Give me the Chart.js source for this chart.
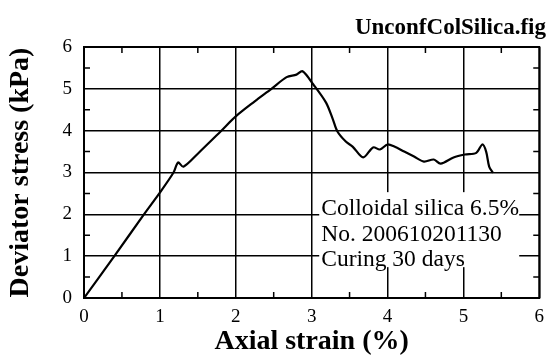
<!DOCTYPE html>
<html lang="en">
<head>
<meta charset="UTF-8">
<title>UnconfColSilica</title>
<style>
  html, body { margin: 0; padding: 0; background: #fff; }
  #wrap { width: 552px; height: 356px; position: relative; }
</style>
</head>
<body>
<div id="wrap"><canvas id="chartContainer" width="552" height="356"></canvas></div>

<script src="https://cdn.jsdelivr.net/npm/chart.js"></script>
<script>
// data
const strain = [0, 0.40, 0.79, 1.00, 1.18, 1.24, 1.31, 1.50, 1.80, 2.00, 2.25, 2.47, 2.67, 2.80, 2.88,
                3.02, 3.19, 3.28, 3.34, 3.45, 3.54, 3.68, 3.81, 3.90, 4.00, 4.09, 4.22, 4.35, 4.48,
                4.61, 4.70, 4.87, 5.02, 5.17, 5.25, 5.30, 5.34, 5.39];
const stress = [0, 1.00, 2.00, 2.52, 3.00, 3.24, 3.14, 3.45, 3.98, 4.34, 4.70, 5.00, 5.28, 5.34, 5.42,
                5.11, 4.67, 4.27, 3.98, 3.74, 3.62, 3.36, 3.60, 3.55, 3.67, 3.62, 3.50, 3.38, 3.26,
                3.31, 3.21, 3.36, 3.43, 3.47, 3.67, 3.50, 3.14, 2.99];
const noteLines = ['Colloidal silica 6.5%', 'No. 200610201130', 'Curing 30 days'];
const figName = 'UnconfColSilica.fig';

const SERIF = '"Liberation Serif", "DejaVu Serif", serif';

const points = strain.map((x, i) => ({x: x, y: stress[i]}));

// frame, minor ticks, note box and file name
const decorPlugin = {
    id: 'decor',
    beforeDatasetsDraw(chart) {
        const ctx = chart.ctx;
        const a = chart.chartArea;
        const xs = chart.scales.x, ys = chart.scales.y;
        ctx.save();
        ctx.strokeStyle = '#000';
        ctx.lineWidth = 1.5;
        // minor ticks at 0.5
        for (let v = 0.5; v < 6; v += 1) {
            const px = xs.getPixelForValue(v);
            ctx.beginPath();
            ctx.moveTo(px, a.bottom); ctx.lineTo(px, a.bottom - 6);
            ctx.moveTo(px, a.top); ctx.lineTo(px, a.top + 6);
            ctx.stroke();
            const py = ys.getPixelForValue(v);
            ctx.beginPath();
            ctx.moveTo(a.left, py); ctx.lineTo(a.left + 6, py);
            ctx.moveTo(a.right, py); ctx.lineTo(a.right - 6, py);
            ctx.stroke();
        }
        // note box
        const bx = xs.getPixelForValue(3.1);
        const by = ys.getPixelForValue(2.53);
        ctx.fillStyle = '#fff';
        ctx.fillRect(bx, by, 200, 75);
        ctx.fillStyle = '#000';
        ctx.font = '23.5px ' + SERIF;
        ctx.textBaseline = 'middle';
        ctx.textAlign = 'left';
        noteLines.forEach((t, i) => ctx.fillText(t, bx + 2, ys.getPixelForValue(2.12 - i * 0.6)));
        // frame
        ctx.lineWidth = 2;
        ctx.strokeRect(a.left, a.top, a.right - a.left, a.bottom - a.top);
        ctx.restore();
    },
    afterDraw(chart) {
        const ctx = chart.ctx;
        ctx.save();
        ctx.fillStyle = '#000';
        ctx.font = 'bold 23px ' + SERIF;
        ctx.textAlign = 'right';
        ctx.textBaseline = 'middle';
        ctx.fillText(figName, 546, 28);
        ctx.restore();
    }
};

new Chart(document.getElementById('chartContainer'), {
    type: 'scatter',
    data: {
        datasets: [{
            data: points,
            showLine: true,
            borderColor: '#000',
            borderWidth: 2.2,
            pointRadius: 0,
            tension: 0.3,
            fill: false
        }]
    },
    options: {
        responsive: false,
        animation: false,
        layout: { padding: { top: 47, right: 6, left: 0, bottom: 0 } },
        plugins: { legend: { display: false }, tooltip: { enabled: false } },
        scales: {
            x: {
                type: 'linear',
                min: 0, max: 6,
                afterFit(scale) { scale.height = 58; },
                border: { display: false },
                grid: { color: '#000', lineWidth: 1.5, drawTicks: false },
                ticks: { stepSize: 1, color: '#000', padding: 8, font: { family: SERIF, size: 19 } },
                title: {
                    display: true, text: 'Axial strain (%)', color: '#000', padding: { top: 0, bottom: 0 },
                    font: { family: SERIF, size: 28, weight: 'bold', lineHeight: 1.0 }
                }
            },
            y: {
                type: 'linear',
                min: 0, max: 6,
                afterFit(scale) { scale.width = 84; },
                border: { display: false },
                grid: { color: '#000', lineWidth: 1.5, drawTicks: false },
                ticks: { stepSize: 1, color: '#000', padding: 12, font: { family: SERIF, size: 19 } },
                title: {
                    display: true, text: 'Deviator stress (kPa)', color: '#000', padding: { top: 4, bottom: 0 },
                    font: { family: SERIF, size: 28, weight: 'bold' }
                }
            }
        }
    },
    plugins: [decorPlugin]
});
</script>
</body>
</html>
